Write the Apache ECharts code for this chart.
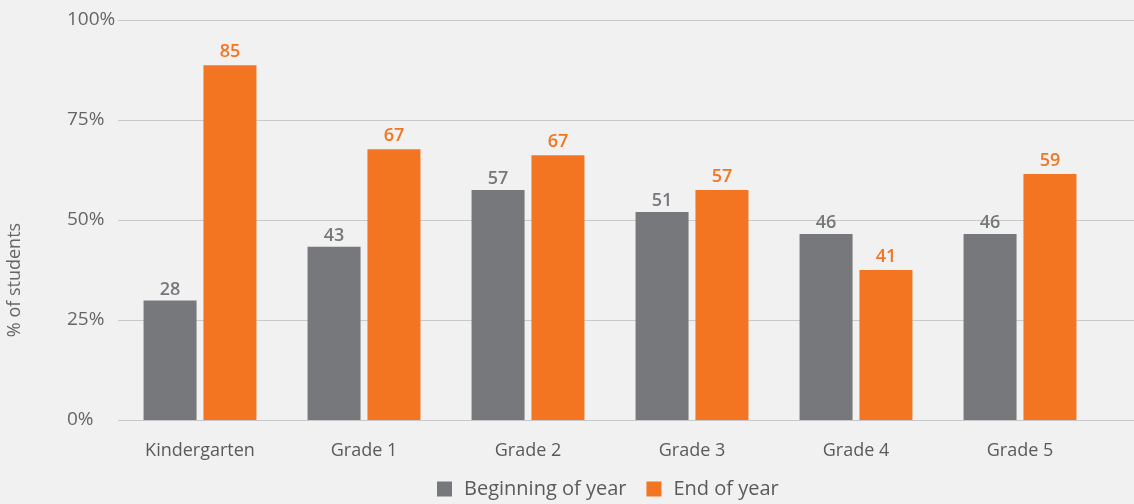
<!DOCTYPE html>
<html>
<head>
<meta charset="utf-8">
<script src="https://cdn.jsdelivr.net/npm/echarts@6/dist/echarts.min.js"></script>
<style>
html,body{margin:0;padding:0;background:#f1f1f1;}
#chart{width:1134px;height:504px;}
</style>
</head>
<body>
<div id="chart"></div>
<script>
const categories = ['Kindergarten', 'Grade 1', 'Grade 2', 'Grade 3', 'Grade 4', 'Grade 5'];
const seriesNames = ['Beginning of year', 'End of year'];
// bar heights as drawn (% of students)
const beginValues = [29.9, 43.3, 57.5, 52.0, 46.5, 46.5];
const endValues = [88.7, 67.7, 66.2, 57.5, 37.5, 61.5];
// printed value labels
const beginLabels = [28, 43, 57, 51, 46, 46];
const endLabels = [85, 67, 67, 57, 41, 59];
const yTicks = [0, 25, 50, 75, 100];

const GRAY = '#77787b';
const ORANGE = '#f47521';
const FONT = '"Open Sans", Lato, sans-serif';

const chart = echarts.init(document.getElementById('chart'));
chart.setOption({
  backgroundColor: '#f1f1f1',
  animation: false,
  textStyle: { fontFamily: FONT },
  grid: [
    { left: 118, right: 32, top: 20, bottom: 84 },
    { left: 118, right: 0, top: 20, bottom: 84 }
  ],
  legend: {
    data: seriesNames,
    top: 479,
    left: 437,
    padding: 0,
    icon: 'rect',
    itemWidth: 15,
    itemHeight: 15,
    itemGap: 20,
    textStyle: { fontSize: 20, color: '#5a5a5a', fontFamily: FONT, padding: [0, 0, 0, 7] }
  },
  xAxis: [
    {
      type: 'category', gridIndex: 0, data: categories,
      axisLine: { show: false }, axisTick: { show: false },
      axisLabel: { color: '#5a5a5a', fontSize: 18, margin: 22, fontFamily: FONT }
    },
    { type: 'value', gridIndex: 1, show: false, min: 0, max: 1 }
  ],
  yAxis: [
    {
      type: 'value', gridIndex: 0, min: yTicks[0], max: yTicks[yTicks.length - 1], interval: 25,
      axisLine: { show: false }, axisTick: { show: false }, splitLine: { show: false },
      axisLabel: {
        formatter: '{value}%', color: '#666', fontSize: 19, align: 'left', margin: 51,
        fontFamily: FONT
      }
    },
    {
      type: 'value', gridIndex: 1, min: yTicks[0], max: yTicks[yTicks.length - 1], interval: 25,
      axisLine: { show: false }, axisTick: { show: false }, axisLabel: { show: false },
      splitLine: { show: true, lineStyle: { color: '#c9c9c9', width: 1 } }
    }
  ],
  graphic: [{
    type: 'text', x: 15, y: 280, rotation: Math.PI / 2,
    style: {
      text: '% of students', fill: '#666', font: '18px ' + FONT,
      align: 'center', verticalAlign: 'middle'
    }
  }],
  series: [
    {
      name: seriesNames[0], type: 'bar', xAxisIndex: 0, yAxisIndex: 0,
      data: beginValues, barWidth: 53, barGap: '13%',
      itemStyle: { color: GRAY },
      label: {
        show: true, position: 'top', distance: 2, color: GRAY, fontSize: 18, fontWeight: 600,
        fontFamily: FONT, formatter: p => beginLabels[p.dataIndex]
      }
    },
    {
      name: seriesNames[1], type: 'bar', xAxisIndex: 0, yAxisIndex: 0,
      data: endValues, barWidth: 53, barGap: '13%',
      itemStyle: { color: ORANGE },
      label: {
        show: true, position: 'top', distance: 4, color: ORANGE, fontSize: 18, fontWeight: 600,
        fontFamily: FONT, formatter: p => endLabels[p.dataIndex]
      }
    }
  ]
});
</script>
</body>
</html>
